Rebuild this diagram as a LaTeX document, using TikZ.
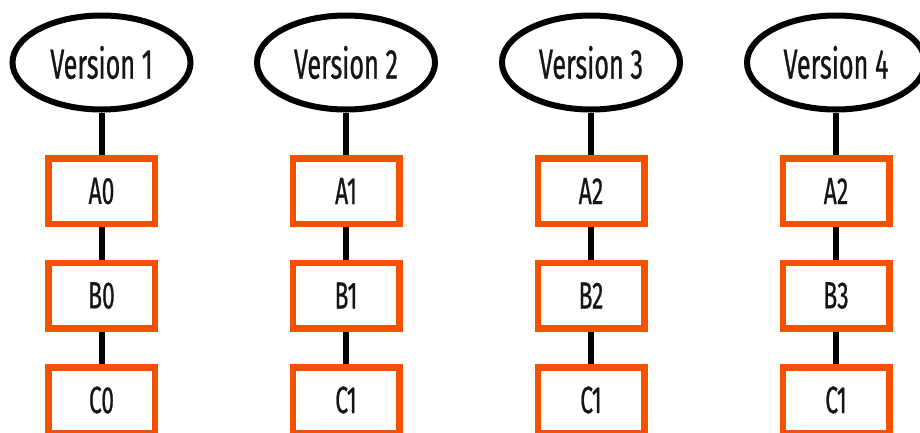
\documentclass[tikz,border=0pt]{standalone}
\usepackage{fontspec}
\setmainfont[FakeStretch=0.6,FakeBold=0.6]{Fira Sans}
\usetikzlibrary{shapes.geometric}
\definecolor{vorange}{HTML}{F55200}
\definecolor{vtext}{HTML}{151515}
\tikzset{
  x=1pt,y=-1pt,
  vers/.style={ellipse,draw=black,line width=6pt,minimum width=178pt,minimum height=94pt,inner sep=0pt,fill=white,text=vtext,font=\fontsize{42}{42}\selectfont},
  item/.style={rectangle,draw=vorange,line width=6.5pt,minimum width=106.5pt,minimum height=65.5pt,inner sep=0pt,fill=white,text=vtext,font=\fontsize{38}{38}\selectfont},
  link/.style={line width=6pt,draw=black}
}
\begin{document}
\begin{tikzpicture}
\useasboundingbox (0,0) rectangle (920,432);
\foreach \i/\cx/\v/\a/\b/\c in {1/101.5/1/A0/B0/C0, 2/346/2/A1/B1/C1, 3/591/3/A2/B2/C1, 4/836/4/A2/B3/C1}{
  \node[vers] (v\i) at (\cx,62.5) {Version \v};
  \node[item] (a\i) at (\cx,191) {\a};
  \node[item] (b\i) at (\cx,295.5) {\b};
  \node[item] (c\i) at (\cx,400) {\c};
  \draw[link] (v\i) -- (a\i);
  \draw[link] (a\i) -- (b\i);
  \draw[link] (b\i) -- (c\i);
}
\end{tikzpicture}
\end{document}
